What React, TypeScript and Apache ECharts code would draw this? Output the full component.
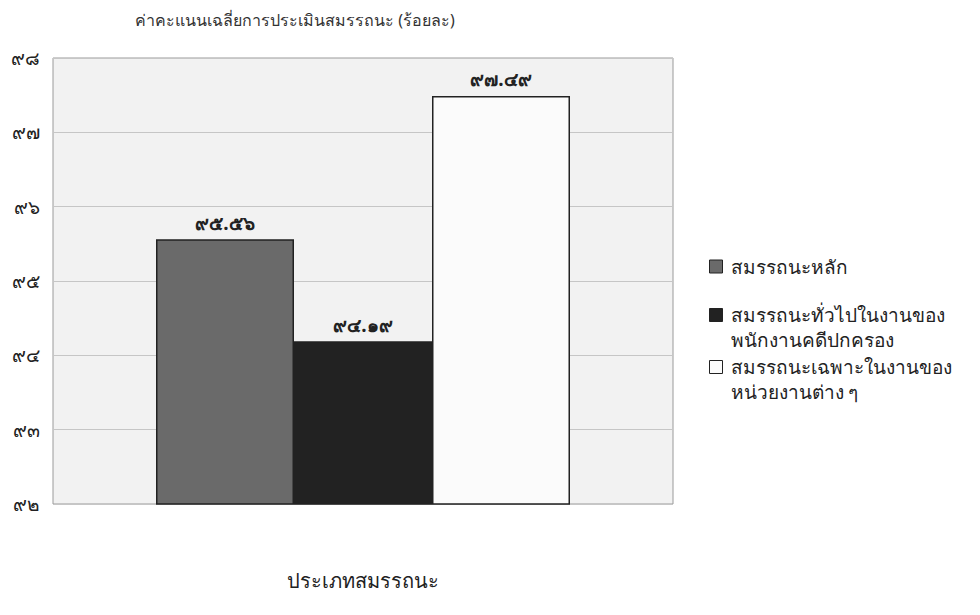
import React, { useEffect, useRef } from "react";
import * as echarts from "echarts";

const categories = [""];
const seriesNames = [
  "สมรรถนะหลัก",
  "สมรรถนะทั่วไปในงานของ\nพนักงานคดีปกครอง",
  "สมรรถนะเฉพาะในงานของ\nหน่วยงานต่าง ๆ",
];
const seriesValues = [95.56, 94.19, 97.49];
const seriesColors = ["#6a6a6a", "#222222", "#fbfbfb"];
const yTicks = [92, 93, 94, 95, 96, 97, 98];
const titleText = "ค่าคะแนนเฉลี่ยการประเมินสมรรถนะ (ร้อยละ)";
const xAxisName = "ประเภทสมรรถนะ";

const thaiDigits = "๐๑๒๓๔๕๖๗๘๙";
const toThai = (s: string) => s.replace(/[0-9]/g, (d) => thaiDigits[Number(d)]);

const FONT = "'Noto Sans', 'DejaVu Sans', sans-serif";
const LINE_H = 25;
const ICON = 13;

const legendTops = [254, 302, 354];

function legendFor(i: number) {
  const lines = seriesNames[i].split("\n").length;
  const h = lines * LINE_H;
  const off = (LINE_H - ICON) / 2;
  const icon =
    lines === 1
      ? "rect"
      : `path://M0,0L0.01,0M0,${off}L${ICON},${off}L${ICON},${off + ICON}L0,${off + ICON}ZM0,${h}L0.01,${h}`;
  return {
    orient: "vertical",
    left: 709,
    top: legendTops[i],
    padding: 0,
    itemWidth: ICON,
    itemHeight: lines === 1 ? ICON : h,
    itemGap: 0,
    data: [{ name: seriesNames[i], icon }],
    textStyle: { fontSize: 19, color: "#222", fontFamily: FONT, lineHeight: LINE_H, padding: [0, 0, 0, 3] },
    itemStyle: { borderColor: "#222", borderWidth: 1 },
  };
}

export default function App() {
  const ref = useRef<HTMLDivElement>(null);
  useEffect(() => {
    if (!ref.current) return;
    const chart = echarts.init(ref.current, undefined, { renderer: "svg" });
    chart.setOption({
      animation: false,
      backgroundColor: "#ffffff",
      textStyle: { fontFamily: FONT },
      title: {
        text: titleText,
        left: 135,
        top: 12,
        padding: 0,
        textStyle: { fontSize: 16, fontWeight: "normal", color: "#333", fontFamily: FONT },
      },
      legend: seriesNames.map((_, i) => legendFor(i)),
      grid: {
        left: 53,
        right: 307,
        top: 58,
        bottom: 111,
        show: true,
        backgroundColor: "#f2f2f2",
        borderColor: "#9a9a9a",
        borderWidth: 1,
      },
      xAxis: {
        type: "category",
        data: categories,
        name: xAxisName,
        nameLocation: "middle",
        nameGap: 66,
        nameTextStyle: { fontSize: 20, color: "#222", fontFamily: FONT },
        axisLine: { show: false },
        axisTick: { show: false },
        axisLabel: { show: false },
      },
      yAxis: {
        type: "value",
        min: yTicks[0],
        max: yTicks[yTicks.length - 1],
        interval: 1,
        axisLine: { show: false },
        axisTick: { show: false },
        axisLabel: {
          formatter: (v: number) => toThai(String(v)),
          fontSize: 19,
          color: "#222",
          margin: 13,
          fontFamily: FONT,
        },
        splitLine: { lineStyle: { color: "#c6c6c6", width: 1 } },
      },
      series: seriesNames.map((name, i) => ({
        name,
        type: "bar",
        data: [seriesValues[i]],
        barWidth: 138,
        barGap: "0%",
        itemStyle: { color: seriesColors[i], borderColor: "#222", borderWidth: 1.5 },
        label: {
          show: true,
          position: "top",
          distance: 7,
          formatter: (p: any) => toThai(Number(p.value).toFixed(2)),
          fontSize: 19,
          fontWeight: "bold",
          color: "#222",
          fontFamily: FONT,
        },
      })),
    });
    return () => chart.dispose();
  }, []);
  return (
    <div
      ref={ref}
      style={{ position: "fixed", left: 0, top: 0, width: 980, height: 615 }}
    />
  );
}
